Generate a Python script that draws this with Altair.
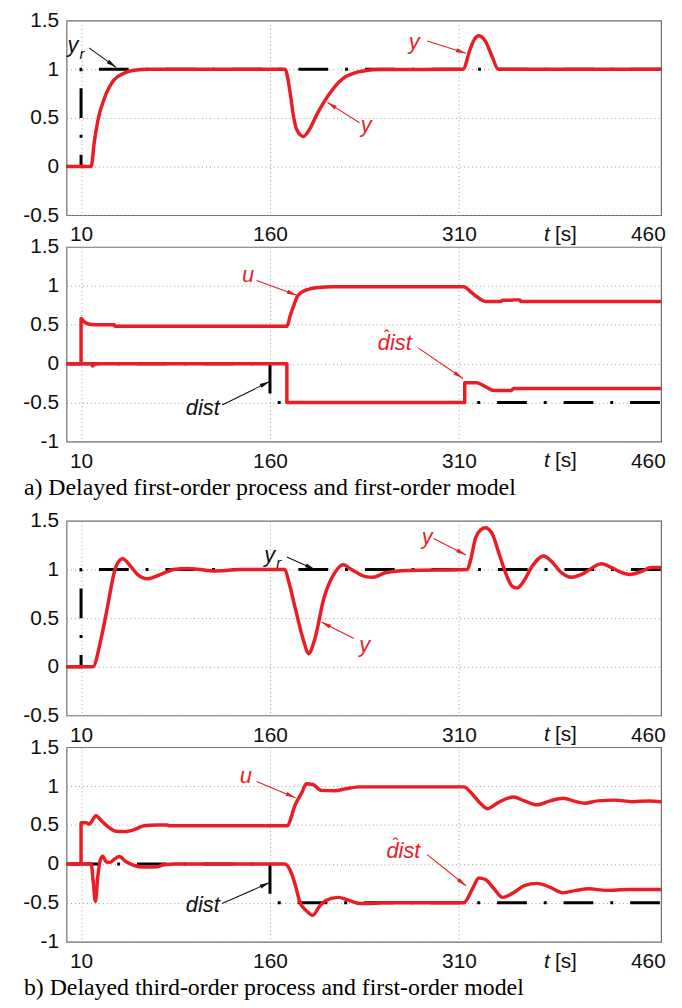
import math
import altair as alt
import pandas as pd

W, H = 599, 196
XDOM = [-1.5, 470.5]
RED = "#ec1c24"
BLK = "#111111"
FONT = "Liberation Sans"
SERIF = "Liberation Serif"
ARROW_PATH = "M0,0L-0.42,2L0.42,2Z"
DASH = [30, 17, 3, 17]

# ---------------- data ----------------
X_TICKS = [10, 160, 310, 460]
Y_TICKS_A = [-0.5, 0, 0.5, 1, 1.5]
Y_TICKS_B = [-1, -0.5, 0, 0.5, 1, 1.5]
YDOM_A = [-0.5, 1.5]
YDOM_B = [-1, 1.5]

REF_T = [-1.5, 10, 10, 470.5]
REF_V = [0, 0, 1, 1]
DIST_T = [-1.5, 160, 160, 470.5]
DIST_V = [0, 0, -0.5, -0.5]

# a) first-order process: y
P1_Y_T = [-1.5, 18.0, 20.6, 23.3, 28.5, 36.1, 44.3, 52.0, 65.0, 171.9, 175.9, 178.5,
          181.2, 186.4, 191.7, 197.0, 202.2, 207.4, 212.7, 217.9, 225.8, 236.4, 246.9,
          313.2, 319.0, 322.4, 325.9, 331.0, 336.1, 341.3, 470.5]
P1_Y_V = [0, 0, 0.26, 0.47, 0.70, 0.89, 0.96, 0.99, 1.0, 1.0, 0.77, 0.53,
          0.38, 0.31, 0.39, 0.53, 0.65, 0.75, 0.84, 0.905, 0.956, 0.987, 0.997,
          1.0, 1.21, 1.31, 1.345, 1.29, 1.14, 1.0, 1.0]

# a) u and estimated disturbance
P2_U_T = [-1.5, 10, 10, 12.4, 16.0, 21.0, 36.4, 37.0, 173.4, 176.1, 178.9, 181.6,
          185.4, 190.5, 199.1, 209.4, 313.9, 319.0, 324.2, 331.0, 343.0, 344.7, 351.6,
          353.3, 358.4, 359.0, 470.5]
P2_U_V = [0, 0, 0.58, 0.54, 0.51, 0.50, 0.50, 0.48, 0.48, 0.62, 0.75, 0.86,
          0.92, 0.955, 0.98, 0.99, 0.99, 0.93, 0.86, 0.80, 0.80, 0.815, 0.815,
          0.82, 0.82, 0.80, 0.80]
P2_D_T = [-1.5, 18.0, 19.2, 21.0, 173.4, 173.4, 314.6, 314.6, 324.2, 331.0, 337.9,
          351.6, 353.3, 470.5]
P2_D_V = [0, 0, -0.03, 0, 0, -0.5, -0.5, -0.245, -0.245, -0.295, -0.345,
          -0.345, -0.32, -0.32]

# b) third-order process: y
P3_Y_T = [-1.5, 19.3, 25.9, 31.2, 35.1, 37.7, 43.0, 49.6, 54.8, 62.7, 73.2, 83.7,
          94.3, 104.8, 115.0, 125.0, 135.0, 171.7, 175.0, 180.3, 187.1, 190.5, 195.7,
          202.5, 211.1, 218.0, 224.8, 235.1, 241.9, 252.2, 269.3, 316.7, 319.3, 323.3,
          327.5, 331.1, 334.0, 336.4, 341.7, 346.9, 352.2, 356.2, 361.4, 368.0, 377.2,
          383.8, 390.4, 399.6, 407.5, 423.3, 431.2, 439.1, 445.6, 454.8, 462.8, 470.5]
P3_Y_V = [0, 0, 0.29, 0.63, 0.90, 1.03, 1.11, 1.03, 0.95, 0.905, 0.95, 1.0,
          1.01, 1.0, 0.985, 0.99, 1.0, 1.0, 0.87, 0.59, 0.25, 0.135, 0.29,
          0.69, 0.96, 1.05, 1.0, 0.93, 0.92, 0.97, 0.99, 1.0, 1.10, 1.33,
          1.41, 1.43, 1.41, 1.37, 1.17, 0.97, 0.83, 0.81, 0.88, 1.03, 1.14,
          1.08, 0.98, 0.92, 0.95, 1.06, 1.02, 0.97, 0.95, 0.98, 1.02, 1.02]

# b) u and estimated disturbance
P4_U_T = [-1.5, 10, 10, 14.0, 16.6, 19.0, 21.9, 25.9, 31.2, 37.7, 44.3, 52.1, 60.1,
          70.6, 78.5, 80.0, 173.4, 180.3, 185.4, 188.8, 194.0, 200.8, 211.1, 221.4,
          231.7, 313.9, 320.7, 327.6, 332.7, 341.3, 353.3, 361.9, 372.1, 382.4, 392.7,
          403.0, 409.8, 420.1, 433.8, 447.5, 461.2, 470.5]
P4_U_V = [0, 0, 0.53, 0.53, 0.51, 0.56, 0.62, 0.56, 0.48, 0.42, 0.415, 0.44, 0.49,
          0.50, 0.50, 0.49, 0.49, 0.77, 0.92, 1.03, 1.02, 0.945, 0.94, 0.97,
          0.99, 0.99, 0.895, 0.77, 0.71, 0.79, 0.86, 0.81, 0.76, 0.81, 0.845,
          0.80, 0.78, 0.81, 0.82, 0.80, 0.81, 0.80]
P4_D_T = [-1.5, 18.0, 19.8, 21.4, 23.3, 25.3, 27.2, 29.8, 33.0, 36.5, 40.3, 45.6,
          52.1, 60.1, 70.6, 75.9, 85.0, 171.7, 176.0, 180.3, 183.7, 188.8, 194.0,
          199.1, 204.2, 214.5, 221.4, 231.7, 238.5, 248.8, 313.9, 320.7, 325.9, 331.0,
          337.9, 344.7, 353.3, 361.9, 372.1, 382.4, 392.7, 403.0, 413.2, 426.9, 444.1,
          470.5]
P4_D_V = [0, 0, -0.25, -0.48, -0.16, 0.05, 0.10, 0.03, 0.02, 0.06, 0.094, 0.03,
          -0.02, -0.04, -0.035, -0.01, 0, 0, -0.08, -0.28, -0.49, -0.60, -0.66,
          -0.55, -0.47, -0.43, -0.46, -0.51, -0.51, -0.50, -0.50, -0.32, -0.18, -0.20,
          -0.32, -0.43, -0.37, -0.28, -0.25, -0.30, -0.37, -0.34, -0.32, -0.34, -0.33,
          -0.33]

# annotations: labels (text, t, v, colour, hat?) and arrows (t0, v0, t1, v1, colour)
LAB1_TXT = ["y", "y", "y"]
LAB1_T = [3.5, 274.5, 236.4]
LAB1_V = [1.25, 1.28, 0.43]
LAB1_C = [BLK, RED, RED]
LAB1_HAT = [False, False, False]
SUB1 = (10.8, 1.16)
ARR1_T0 = [16.4, 284.8, 231.1]
ARR1_V0 = [1.22, 1.29, 0.45]
ARR1_T1 = [37.8, 315.6, 205.5]
ARR1_V1 = [1.02, 1.165, 0.66]
ARR1_C = [BLK, RED, RED]

LAB2_TXT = ["u", "dist", "dist"]
LAB2_T = [142.6, 259.1, 106.6]
LAB2_V = [1.14, 0.26, -0.57]
LAB2_C = [RED, RED, BLK]
LAB2_HAT = [False, True, False]
ARR2_T0 = [149.4, 277.9, 122.0]
ARR2_V0 = [1.07, 0.20, -0.53]
ARR2_T1 = [181.3, 313.2, 159.7]
ARR2_V1 = [0.88, -0.19, -0.23]
ARR2_C = [RED, RED, BLK]

LAB3_TXT = ["y", "y", "y"]
LAB3_T = [159.7, 284.8, 235.1]
LAB3_V = [1.15, 1.33, 0.22]
LAB3_C = [BLK, RED, RED]
LAB3_HAT = [False, False, False]
SUB3 = (167.0, 1.07)
ARR3_T0 = [173.4, 289.9, 226.5]
ARR3_V0 = [1.13, 1.32, 0.29]
ARR3_T1 = [195.7, 315.6, 200.8]
ARR3_V1 = [1.0, 1.15, 0.46]
ARR3_C = [BLK, RED, RED]

LAB4_TXT = ["u", "dist", "dist"]
LAB4_T = [140.9, 265.9, 106.6]
LAB4_V = [1.13, 0.16, -0.53]
LAB4_C = [RED, RED, BLK]
LAB4_HAT = [False, True, False]
ARR4_T0 = [149.4, 284.8, 122.0]
ARR4_V0 = [1.06, 0.12, -0.51]
ARR4_T1 = [180.3, 315.6, 159.7]
ARR4_V1 = [0.85, -0.28, -0.24]
ARR4_C = [RED, RED, BLK]

T_LABEL_T = [377.5, 386.2]
T_LABEL_TXT = ["t", "[s]"]
T_LABEL_STYLE = ["italic", "normal"]

CAPTIONS = ["a) Delayed first-order process and first-order model",
            "b) Delayed third-order process and first-order model"]

XSPAN = XDOM[1] - XDOM[0]
PX = W / XSPAN
PERIOD = sum(DASH)


def dash_offset(t_corner, extra_px):
    """dash phase so that a dash starts extra_px after the corner at t_corner"""
    s = (t_corner - XDOM[0]) * PX + extra_px
    return (-s) % PERIOD


# ---------------- building blocks ----------------
def x_enc(field="t"):
    return alt.X(f"{field}:Q",
                 scale=alt.Scale(domain=XDOM, nice=False, zero=False),
                 axis=alt.Axis(values=X_TICKS, title=None, labelPadding=9,
                               gridOpacity={"condition": {"test": "datum.value === 460", "value": 0},
                                            "value": 1}))


def y_enc(ydom, yticks, field="v"):
    return alt.Y(f"{field}:Q",
                 scale=alt.Scale(domain=ydom, nice=False, zero=False),
                 axis=alt.Axis(values=yticks, title=None, labelPadding=8,
                               labelExpr="'' + datum.value"))


def line_layer(T, V, kind, ydom, yticks, offset=0):
    df = pd.DataFrame({"t": T, "v": V, "i": list(range(len(T)))})
    if kind == "ref":
        m = alt.Chart(df).mark_line(color="black", strokeWidth=3, strokeDash=DASH,
                                    strokeDashOffset=offset, strokeCap="butt")
    else:
        m = alt.Chart(df).mark_line(color=RED, strokeWidth=3.5, strokeJoin="round",
                                    interpolate="monotone")
    return m.encode(x=x_enc(), y=y_enc(ydom, yticks), order="i:Q")


def panel(series, ydom, yticks, labs, arrs, sub=None, caption=None):
    layers = [line_layer(T, V, k, ydom, yticks, o) for (T, V, k, o) in series]
    yspan = ydom[1] - ydom[0]

    txt, lt, lv, lc, hat = labs
    ldf = pd.DataFrame({"t": lt, "v": lv, "txt": txt, "col": lc, "hat": hat})
    layers.append(alt.Chart(ldf).mark_text(font=FONT, fontStyle="italic", fontSize=22,
                                           align="center", baseline="middle").encode(
        x=x_enc(), y=y_enc(ydom, yticks), text="txt:N",
        color=alt.Color("col:N", scale=None)))
    hdf = ldf[ldf["hat"]]
    if len(hdf):
        layers.append(alt.Chart(hdf).mark_text(font=FONT, fontSize=17, align="center",
                                               baseline="alphabetic", dx=-8, dy=-1,
                                               text="\u02c6").encode(
            x=x_enc(), y=y_enc(ydom, yticks), color=alt.Color("col:N", scale=None)))
    if sub is not None:
        sdf = pd.DataFrame({"t": [sub[0]], "v": [sub[1]], "txt": ["r"]})
        layers.append(alt.Chart(sdf).mark_text(font=FONT, fontStyle="italic", fontSize=15,
                                               align="center", baseline="middle",
                                               color=BLK).encode(
            x=x_enc(), y=y_enc(ydom, yticks), text="txt:N"))

    t0, v0, t1, v1, ac = arrs
    angs = []
    for a, b, c, d in zip(t0, v0, t1, v1):
        dx = (c - a) * PX
        dy = -(d - b) * H / yspan
        angs.append(math.degrees(math.atan2(dx, -dy)) % 360)
    adf = pd.DataFrame({"t": t0, "v": v0, "t2": t1, "v2": v1, "col": ac, "ang": angs})
    layers.append(alt.Chart(adf).mark_rule(strokeWidth=1.1).encode(
        x=x_enc(), y=y_enc(ydom, yticks), x2="t2:Q", y2="v2:Q",
        color=alt.Color("col:N", scale=None)))
    layers.append(alt.Chart(adf).mark_point(shape=ARROW_PATH, filled=True, size=100,
                                            opacity=1, strokeWidth=0).encode(
        x=x_enc("t2"), y=y_enc(ydom, yticks, "v2"),
        angle=alt.Angle("ang:Q", scale=None),
        color=alt.Color("col:N", scale=None)))

    tdf = pd.DataFrame({"t": T_LABEL_T, "txt": T_LABEL_TXT, "sty": T_LABEL_STYLE})
    for i in range(len(T_LABEL_T)):
        layers.append(alt.Chart(tdf.iloc[[i]]).mark_text(
            font=FONT, fontSize=21, fontStyle=T_LABEL_STYLE[i], align="left",
            baseline="top", color=BLK).encode(
            x=x_enc(), y=alt.value(H + 9), text="txt:N"))

    if caption is not None:
        cdf = pd.DataFrame({"txt": [caption]})
        layers.append(alt.Chart(cdf).mark_text(font=SERIF, fontSize=24, align="left",
                                               baseline="alphabetic", color="black").encode(
            x=alt.value(-43), y=alt.value(H + 54), text="txt:N"))

    return alt.layer(*layers).properties(width=W, height=H)


OFF_REF = dash_offset(10, 0.5 * 98)
OFF_DIST = dash_offset(160, 0)

p1 = panel([(REF_T, REF_V, "ref", OFF_REF), (P1_Y_T, P1_Y_V, "red", 0)], YDOM_A, Y_TICKS_A,
           (LAB1_TXT, LAB1_T, LAB1_V, LAB1_C, LAB1_HAT),
           (ARR1_T0, ARR1_V0, ARR1_T1, ARR1_V1, ARR1_C), sub=SUB1)
p2 = panel([(DIST_T, DIST_V, "ref", OFF_DIST), (P2_U_T, P2_U_V, "red", 0),
            (P2_D_T, P2_D_V, "red", 0)],
           YDOM_B, Y_TICKS_B, (LAB2_TXT, LAB2_T, LAB2_V, LAB2_C, LAB2_HAT),
           (ARR2_T0, ARR2_V0, ARR2_T1, ARR2_V1, ARR2_C), caption=CAPTIONS[0])
p3 = panel([(REF_T, REF_V, "ref", OFF_REF), (P3_Y_T, P3_Y_V, "red", 0)], YDOM_A, Y_TICKS_A,
           (LAB3_TXT, LAB3_T, LAB3_V, LAB3_C, LAB3_HAT),
           (ARR3_T0, ARR3_V0, ARR3_T1, ARR3_V1, ARR3_C), sub=SUB3)
p4 = panel([(DIST_T, DIST_V, "ref", OFF_DIST), (P4_U_T, P4_U_V, "red", 0),
            (P4_D_T, P4_D_V, "red", 0)],
           YDOM_B, Y_TICKS_B, (LAB4_TXT, LAB4_T, LAB4_V, LAB4_C, LAB4_HAT),
           (ARR4_T0, ARR4_V0, ARR4_T1, ARR4_V1, ARR4_C), caption=CAPTIONS[1])

spacer = alt.Chart(pd.DataFrame({"z": [0]})).mark_point(opacity=0).encode(
    x=alt.value(0), y=alt.value(0)).properties(
    width=W, height=16, view=alt.ViewBackground(stroke="transparent"))

chart = alt.vconcat(p1, p2, spacer, p3, p4, spacing=32, bounds="flush").properties(
    padding={"left": 14, "top": -3, "right": 6, "bottom": 2}
).configure_view(stroke="#6e6e6e", strokeWidth=1.2).configure_axis(
    labelFont=FONT, labelFontSize=21, labelColor=BLK, grid=True, gridColor="#9c9c9c",
    gridDash=[1, 3], gridWidth=1, domain=False, ticks=False, tickSize=0
)

chart.save("out.html", embed_options={"renderer": "svg", "actions": False})
